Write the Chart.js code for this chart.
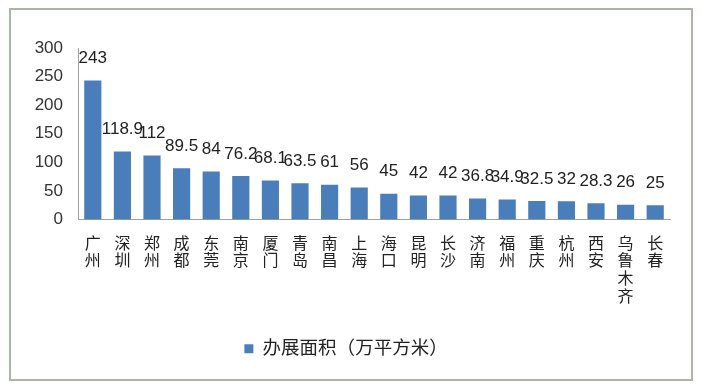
<!DOCTYPE html>
<html>
<head>
<meta charset="utf-8">
<script src="https://cdn.jsdelivr.net/npm/chart.js@4.4.1/dist/chart.umd.min.js"></script>
<style>
  body { margin: 0; background: #fff; }
  #wrap { position: relative; width: 702px; height: 390px; }
  #frame {
    position: absolute; left: 9px; top: 8px; width: 680px; height: 369px;
    border: 2px solid #a9b6a9; pointer-events: none;
  }
</style>
</head>
<body>
<div id="wrap">
  <canvas id="chart" width="702" height="390"></canvas>
  <div id="frame"></div>
</div>
<script>
// city names, one char per line like the original
const cities = ['广州', '深圳', '郑州', '成都', '东莞', '南京', '厦门', '青岛', '南昌', '上海',
  '海口', '昆明', '长沙', '济南', '福州', '重庆', '杭州', '西安', '乌鲁木齐', '长春'];
const area = [243, 118.9, 112, 89.5, 84, 76.2, 68.1, 63.5, 61, 56,
  45, 42, 42, 36.8, 34.9, 32.5, 32, 28.3, 26, 25];
const yTicks = [0, 50, 100, 150, 200, 250, 300];
const seriesName = '办展面积（万平方米）';

const fontFamily = "'Liberation Sans', 'Noto Sans CJK SC', sans-serif";

// value labels above the bars
const valueLabels = {
  id: 'valueLabels',
  afterDatasetsDraw(chart) {
    const ctx = chart.ctx;
    const meta = chart.getDatasetMeta(0);
    ctx.save();
    ctx.font = '17px ' + fontFamily;
    ctx.fillStyle = '#222';
    ctx.textAlign = 'center';
    ctx.textBaseline = 'middle';
    meta.data.forEach((bar, i) => {
      ctx.fillText(String(area[i]), bar.x, bar.y - 22);
    });
    ctx.restore();
  }
};

new Chart(document.getElementById('chart'), {
  type: 'bar',
  data: {
    labels: cities.map(c => c.split('')),
    datasets: [{
      label: seriesName,
      data: area,
      backgroundColor: '#4a7ebb',
      categoryPercentage: 1,
      barPercentage: 0.58
    }]
  },
  options: {
    responsive: false,
    animation: false,
    layout: { padding: { top: 48, right: 32, bottom: 22, left: 22 } },
    plugins: {
      tooltip: { enabled: false },
      legend: {
        position: 'bottom',
        labels: {
          boxWidth: 9, boxHeight: 9, padding: 10,
          color: '#222',
          font: { family: fontFamily, size: 18.5 }
        }
      }
    },
    scales: {
      x: {
        grid: { display: false, drawTicks: false },
        border: { display: true, color: '#a0a0a0' },
        ticks: {
          maxRotation: 0, autoSkip: false, padding: 16, color: '#222',
          font: { family: fontFamily, size: 16, lineHeight: 1.1 }
        },
        afterFit(scale) { scale.height = 110; }
      },
      y: {
        min: 0, max: 300,
        grid: { display: false, drawTicks: false },
        border: { display: true, color: '#a0a0a0' },
        afterBuildTicks(scale) { scale.ticks = yTicks.map(v => ({ value: v })); },
        ticks: {
          padding: 15, color: '#333',
          font: { family: fontFamily, size: 17 }
        },
        afterFit(scale) { scale.width = 56; }
      }
    }
  },
  plugins: [valueLabels]
});
</script>
</body>
</html>
